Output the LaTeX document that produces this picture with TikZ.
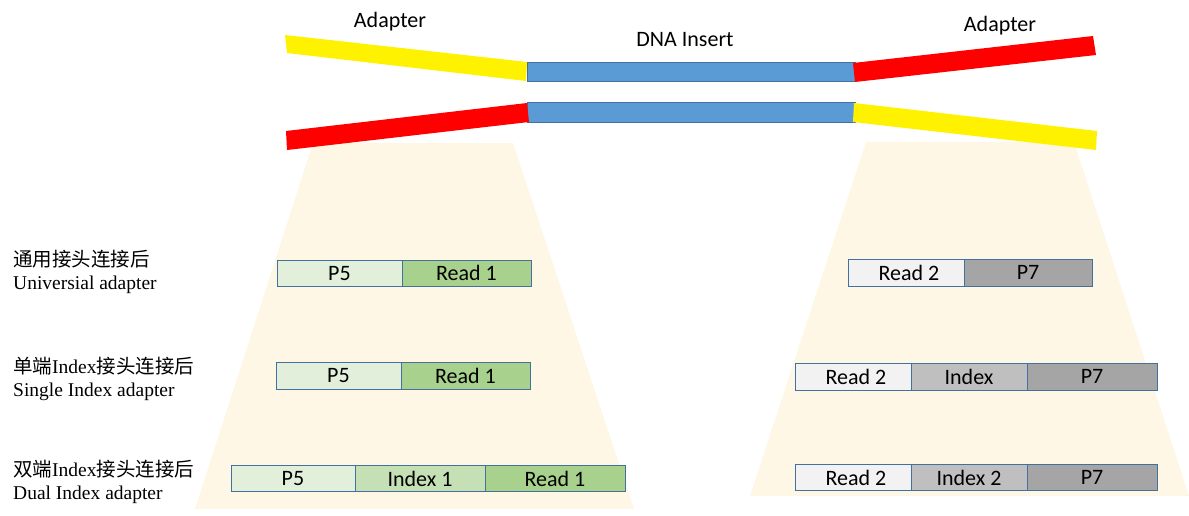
\documentclass[tikz,border=0pt]{standalone}
\usepackage{fontspec}
\setmainfont{Liberation Serif}
\newfontfamily\calfont{Carlito}
\newfontfamily\cjk{Noto Sans CJK SC}
\usepackage{xcolor}
\usetikzlibrary{positioning}

\definecolor{beam}{RGB}{254,247,229}
\definecolor{insert}{RGB}{91,155,213}
\definecolor{segline}{RGB}{65,113,156}
\definecolor{pfive}{RGB}{226,239,218}
\definecolor{idxone}{RGB}{197,224,180}
\definecolor{readone}{RGB}{169,209,142}
\definecolor{readtwo}{RGB}{242,242,242}
\definecolor{idxtwo}{RGB}{191,191,191}
\definecolor{pseven}{RGB}{165,165,165}

\begin{document}
\begin{tikzpicture}[
  x=1pt, y=-1pt,
  seg/.style={draw=segline, line width=0.9pt, minimum height=26.5pt,
    inner sep=0pt, outer sep=0pt, font=\calfont\fontsize{22}{26}\selectfont},
  tag/.style={anchor=base, inner sep=0pt, font=\calfont\fontsize{22}{26}\selectfont},
  lbl/.style={anchor=base west, inner sep=0pt, font=\fontsize{19.5}{22}\selectfont},
  dsdna/.style={fill=insert, draw=segline, line width=0.8pt}
]
\useasboundingbox (0,0) rectangle (1189,516);

% light beams under the adapters
\fill[beam] (313,143) -- (513,143) -- (634,509) -- (195,509) -- cycle;
\fill[beam] (866,142) -- (1074,142) -- (1189,496) -- (750,496) -- cycle;

% the insert and the adapters
\draw[dsdna] (527,62.5) rectangle (855,81.5);
\draw[dsdna] (527,102.5) rectangle (855,122);
\fill[yellow] (285,35) -- (527,62) -- (526,81) -- (287,53) -- cycle;
\fill[red] (853,63) -- (1093,36) -- (1096,55) -- (855,82) -- cycle;
\fill[red] (286,131) -- (527,103) -- (529,122) -- (287,150) -- cycle;
\fill[yellow] (854,103) -- (1097,131) -- (1096,150) -- (853,122) -- cycle;

\node[tag] (adl) at (390,28) {Adapter};
\node[tag] (dna) at (685,47) {DNA Insert};
\node[tag] (adr) at (1000,32) {Adapter};

% row labels
\node[lbl] (uzh) at (13,266) {\cjk 通用接头连接后};
\node[lbl] (uen) at (13,289) {Universial\ adapter};
\node[lbl] (szh) at (13,373) {\cjk 单端\rmfamily Index\cjk 接头连接后};
\node[lbl] (sen) at (13,396) {Single Index\ adapter};
\node[lbl] (dzh) at (13,476) {\cjk 双端\rmfamily Index\cjk 接头连接后};
\node[lbl] (den) at (13,499) {Dual Index\ adapter};

% universal
\node[seg, fill=pfive, minimum width=125pt, anchor=west] (up5) at (277,273.25) {P5};
\node[seg, fill=readone, minimum width=129pt, right=0pt of up5] (ur1) {Read 1};
\node[seg, fill=readtwo, minimum width=116pt, anchor=west] (ur2) at (848,272.75) {\hspace{6pt}Read 2};
\node[seg, fill=pseven, minimum width=128pt, right=0pt of ur2] (up7) {P7};

% single index
\node[seg, fill=pfive, minimum width=125pt, anchor=west] (sp5) at (276,376) {P5};
\node[seg, fill=readone, minimum width=129pt, right=0pt of sp5] (sr1) {Read 1};
\node[seg, fill=readtwo, minimum width=116pt, anchor=west] (sr2) at (795,376.75) {\hspace{6pt}Read 2};
\node[seg, fill=idxtwo, minimum width=116pt, right=0pt of sr2] (six) {Index};
\node[seg, fill=pseven, minimum width=130pt, right=0pt of six] (sp7) {P7};

% dual index
\node[seg, fill=pfive, minimum width=124pt, anchor=west] (dp5) at (231,478.5) {P5};
\node[seg, fill=idxone, minimum width=130pt, right=0pt of dp5] (di1) {Index 1};
\node[seg, fill=readone, minimum width=140pt, right=0pt of di1] (dr1) {Read 1};
\node[seg, fill=readtwo, minimum width=116pt, anchor=west] (dr2) at (795,477.5) {\hspace{6pt}Read 2};
\node[seg, fill=idxtwo, minimum width=116pt, right=0pt of dr2] (di2) {Index 2};
\node[seg, fill=pseven, minimum width=130pt, right=0pt of di2] (dp7) {P7};
\end{tikzpicture}
\end{document}
